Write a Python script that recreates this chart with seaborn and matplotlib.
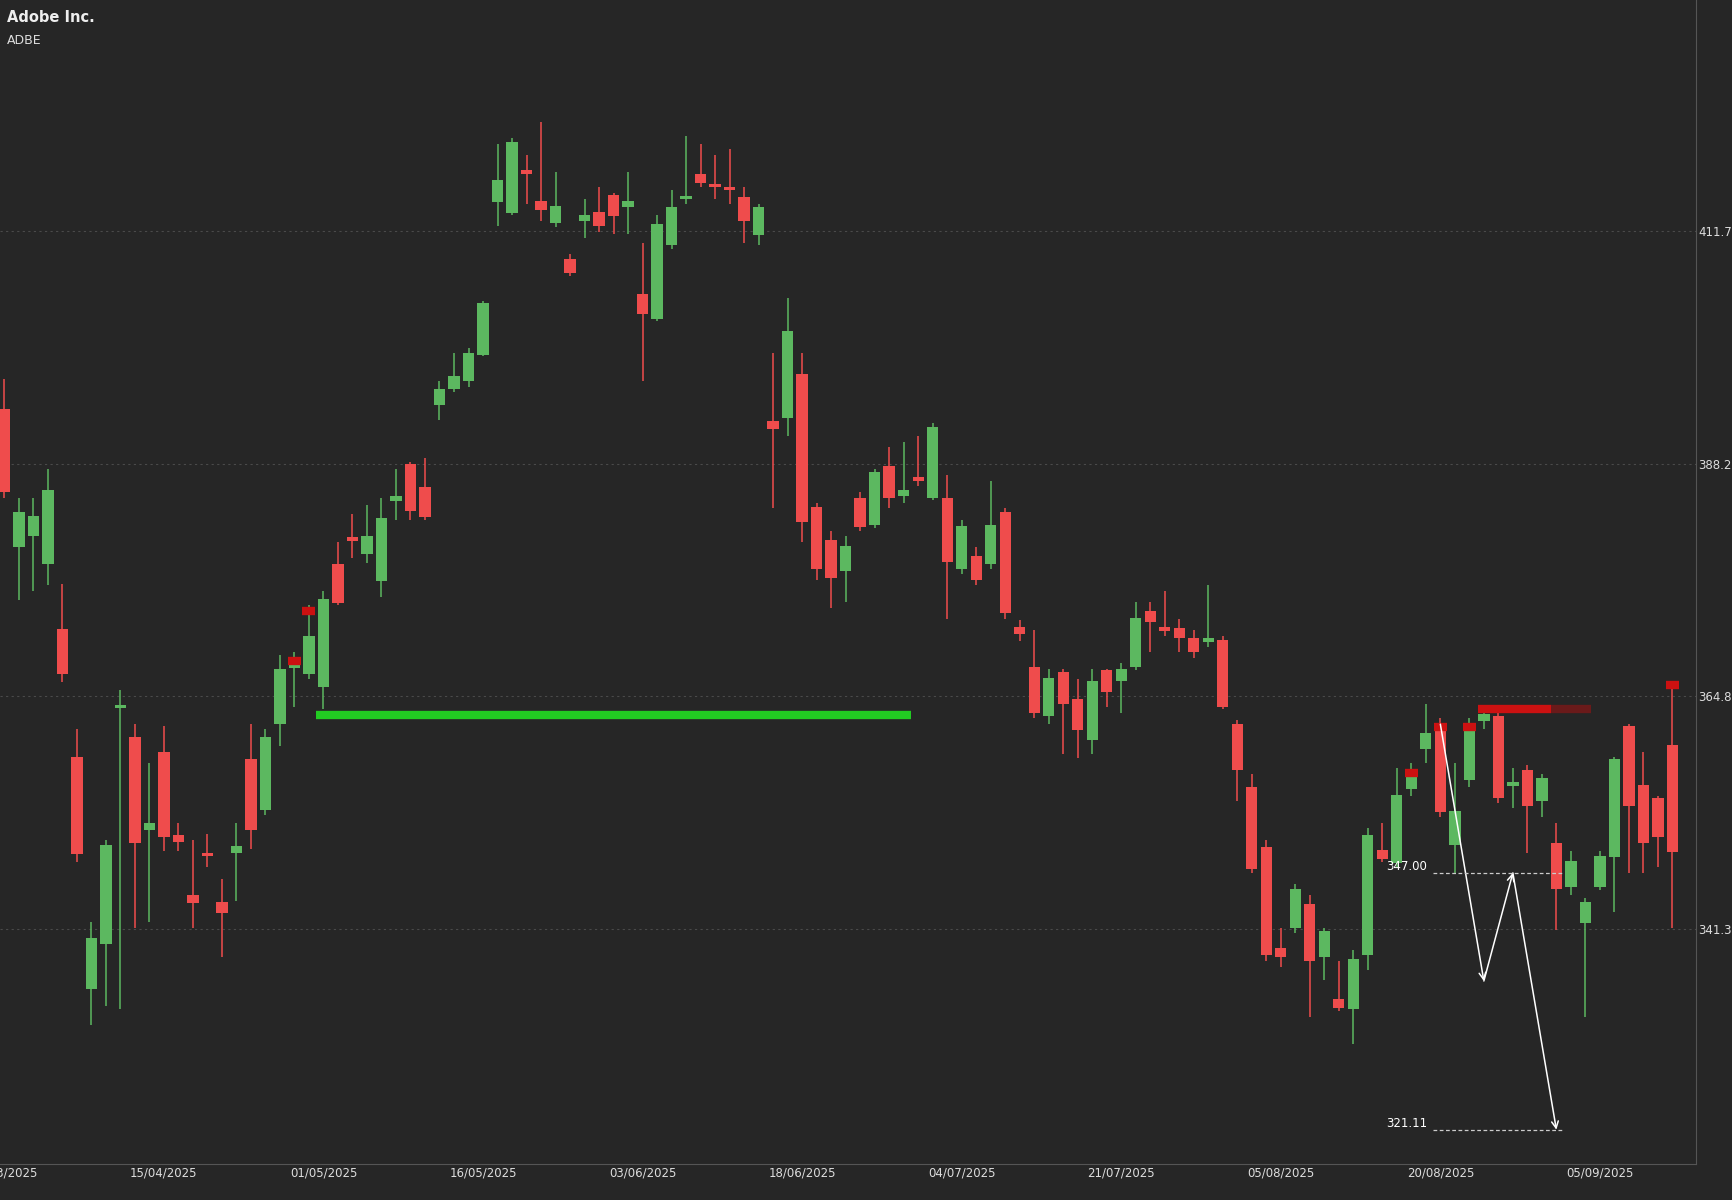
import numpy as np
import pandas as pd
import matplotlib
matplotlib.use("Agg")
import matplotlib.pyplot as plt
import seaborn as sns

# daily OHLC, ADBE, 31/03/2025 .. mid 09/2025
opens = [393.8, 379.9, 381.0, 378.1, 371.6, 358.7, 335.3, 339.8, 363.6, 360.7,
         351.3, 359.2, 350.8, 344.8, 349.0, 344.1, 349.0, 358.5, 353.3, 362.0,
         367.7, 367.1, 365.7, 378.1, 380.9, 379.1, 376.4, 384.5, 388.2, 385.9,
         394.2, 395.8, 396.6, 399.2, 414.6, 413.5, 417.8, 414.7, 412.5, 408.9,
         412.7, 413.6, 415.3, 414.1, 405.4, 402.8, 410.3, 414.9, 417.5, 416.5,
         416.1, 415.1, 411.3, 392.6, 392.9, 397.3, 383.9, 380.6, 377.4, 384.8,
         382.1, 388.0, 385.0, 386.9, 384.8, 384.8, 377.6, 378.9, 378.1, 383.4,
         371.8, 367.8, 362.8, 367.3, 364.5, 360.4, 367.5, 366.3, 367.8, 373.4,
         371.8, 371.7, 370.7, 370.3, 370.5, 362.0, 355.7, 349.6, 339.4, 341.4,
         343.9, 338.5, 334.3, 333.3, 338.7, 349.3, 348.0, 355.5, 359.5, 361.5,
         349.8, 356.4, 362.3, 362.8, 355.8, 357.4, 354.2, 350.0, 345.6, 341.9,
         345.6, 348.6, 361.8, 355.9, 354.5, 359.9]
highs = [396.8, 384.8, 384.8, 387.7, 376.1, 361.5, 342.0, 350.3, 365.4, 362.0,
         358.1, 361.8, 352.0, 350.3, 350.9, 346.4, 352.0, 362.0, 361.5, 369.0,
         369.3, 374.0, 375.4, 380.4, 383.2, 384.1, 384.8, 387.7, 388.4, 388.8,
         396.6, 399.4, 399.9, 404.7, 420.5, 421.1, 419.4, 422.7, 417.7, 409.4,
         414.9, 416.1, 415.5, 417.7, 410.5, 413.3, 415.8, 421.3, 420.5, 419.4,
         420.0, 416.1, 414.4, 399.4, 405.0, 399.4, 384.3, 381.5, 381.0, 385.4,
         387.7, 389.9, 390.4, 391.0, 392.4, 387.1, 382.6, 379.9, 386.5, 383.8,
         372.5, 371.5, 367.6, 367.6, 366.5, 367.6, 367.6, 368.2, 374.3, 374.3,
         375.4, 372.6, 371.5, 376.0, 370.9, 362.4, 357.0, 350.3, 341.4, 345.9,
         344.8, 341.4, 338.1, 339.2, 351.5, 352.0, 357.6, 358.1, 364.0, 362.6,
         358.1, 362.6, 363.7, 363.1, 357.6, 357.9, 357.0, 352.0, 349.2, 344.5,
         349.2, 358.7, 362.0, 359.2, 354.8, 365.9]
lows = [384.8, 374.5, 375.4, 376.0, 366.2, 348.1, 331.7, 333.6, 333.3, 341.4,
        342.0, 349.2, 349.2, 341.4, 347.6, 338.5, 344.2, 349.4, 352.8, 359.8,
        363.7, 366.5, 363.5, 374.0, 378.7, 378.2, 374.8, 382.6, 382.6, 382.6,
        392.7, 395.5, 396.0, 399.1, 412.2, 413.3, 414.4, 412.7, 412.1, 407.2,
        411.0, 411.6, 411.4, 411.4, 396.6, 402.6, 409.9, 414.4, 416.1, 414.9,
        414.4, 410.5, 410.3, 383.8, 391.0, 380.4, 376.5, 373.7, 374.3, 381.5,
        381.8, 383.8, 384.3, 386.0, 384.6, 372.6, 377.1, 376.0, 377.6, 372.6,
        370.4, 362.6, 362.0, 359.0, 358.6, 359.0, 363.7, 363.1, 367.5, 369.3,
        370.9, 369.3, 368.7, 369.8, 363.5, 354.2, 347.0, 338.1, 337.5, 340.9,
        332.5, 336.2, 333.1, 329.7, 337.2, 348.1, 347.6, 354.8, 358.1, 352.6,
        347.0, 355.7, 361.5, 354.0, 353.5, 349.0, 352.6, 341.2, 344.8, 332.5,
        345.3, 343.1, 347.0, 347.0, 347.6, 341.4]
closes = [385.4, 383.4, 383.0, 385.6, 367.1, 348.9, 340.4, 349.8, 363.8, 350.0,
          352.0, 350.6, 350.1, 344.0, 348.7, 343.0, 349.7, 351.3, 360.7, 367.6,
          368.2, 370.9, 374.6, 374.2, 380.5, 381.0, 382.8, 385.0, 383.5, 382.9,
          395.8, 397.1, 399.4, 404.5, 416.9, 420.7, 417.5, 413.8, 414.2, 407.5,
          413.3, 412.2, 413.2, 414.7, 403.3, 412.4, 414.1, 415.2, 416.6, 416.1,
          415.8, 412.7, 414.1, 391.8, 401.6, 382.4, 377.6, 376.7, 380.0, 381.9,
          387.4, 384.8, 385.6, 386.5, 392.0, 378.3, 382.0, 376.5, 382.1, 373.2,
          371.1, 363.1, 366.6, 364.0, 361.4, 366.3, 365.2, 367.6, 372.7, 372.3,
          371.4, 370.7, 369.3, 370.6, 363.7, 357.4, 347.4, 338.7, 338.5, 345.4,
          338.1, 341.1, 333.4, 338.3, 350.8, 348.4, 354.9, 357.2, 361.1, 353.1,
          353.2, 361.8, 363.0, 354.6, 356.1, 353.7, 356.6, 345.4, 348.2, 344.1,
          348.7, 358.5, 353.7, 350.0, 350.6, 349.1]

date_labels = ["31/03/2025", "15/04/2025", "01/05/2025", "16/05/2025", "03/06/2025",
               "18/06/2025", "04/07/2025", "21/07/2025", "05/08/2025", "20/08/2025",
               "05/09/2025"]
price_ticks = [341.3, 364.8, 388.2, 411.7]

# pattern markers (candle index, level)
marker_idx = [20, 21, 97, 99, 101, 115]
marker_lvl = [368.4, 373.4, 357.1, 361.7, 361.7, 365.9]
support_level = 362.9
resist_level = 363.5
# projection path (candle index, price)
proj_x = [99, 102, 104, 107]
proj_y = [362.0, 336.1, 347.0, 321.11]

df = pd.DataFrame({"o": opens, "h": highs, "l": lows, "c": closes})
df["i"] = np.arange(len(df))
df["up"] = df["c"] >= df["o"]

bg = "#262626"
green = "#5cb860"
red = "#ef4c4c"
sns.set_theme(style="dark", rc={"axes.facecolor": bg, "figure.facecolor": bg})

fig = plt.figure(figsize=(17.32, 12), dpi=100)
ax = fig.add_axes([0.0, 0.0304, 0.979, 0.9696])

cols = np.where(df["up"], green, red)
ax.vlines(df["i"], df["l"], df["h"], colors=cols, linewidth=1.1, zorder=2)
bottoms = np.minimum(df["o"], df["c"])
heights = np.maximum(np.abs(df["c"] - df["o"]), 0.35)
ax.bar(df["i"], heights, bottom=bottoms, width=0.78, color=cols, linewidth=0, zorder=3)

ax.hlines(marker_lvl, np.array(marker_idx) - 0.45, np.array(marker_idx) + 0.45,
          colors="#cc1111", linewidth=6, zorder=4)
ax.hlines(support_level, 21.5, 62.5, colors="#22cc22", linewidth=6, zorder=4)
ax.hlines(resist_level, 101.6, 106.6, colors="#cc1111", linewidth=6, zorder=4)
ax.hlines(resist_level, 106.6, 109.4, colors="#6a1a1a", linewidth=6, zorder=4)

# projection legs, each ending in an arrow head
for k in range(3):
    ax.annotate("", xy=(proj_x[k + 1], proj_y[k + 1]), xytext=(proj_x[k], proj_y[k]),
                arrowprops=dict(arrowstyle="->", color="white", lw=1.1,
                                shrinkA=0, shrinkB=0), zorder=5)
for lvl in [347.0, 321.11]:
    ax.hlines(lvl, 98.5, 107.4, colors="#cccccc", linewidth=0.9, linestyles=(0, (3, 2)), zorder=5)
    ax.text(98.1, lvl, f"{lvl:.2f}", color="white", fontsize=8.5, ha="right", va="bottom")

ax.set_xlim(-0.3, 116.6)
ax.set_ylim(317.7, 435.0)
ax.set_xticks(np.arange(0, 111, 11))
ax.set_xticklabels(date_labels)
ax.yaxis.tick_right()
ax.set_yticks(price_ticks)
ax.set_yticklabels([f"{p:.1f}" for p in price_ticks])
ax.tick_params(colors="#dddddd", labelsize=8.5, length=0, pad=2)
ax.grid(axis="y", color="#4a4a4a", linestyle=(0, (2, 3)), linewidth=0.8)
ax.grid(axis="x", visible=False)
for s in ["top", "left"]:
    ax.spines[s].set_visible(False)
for s in ["right", "bottom"]:
    ax.spines[s].set_color("#555555")
    ax.spines[s].set_linewidth(0.8)

fig.text(0.004, 0.992, "Adobe Inc.", color="#eeeeee", fontsize=10.5, fontweight="bold", va="top")
fig.text(0.004, 0.972, "ADBE", color="#dddddd", fontsize=9, va="top")

fig.savefig("out.png", dpi=100, facecolor=bg)
